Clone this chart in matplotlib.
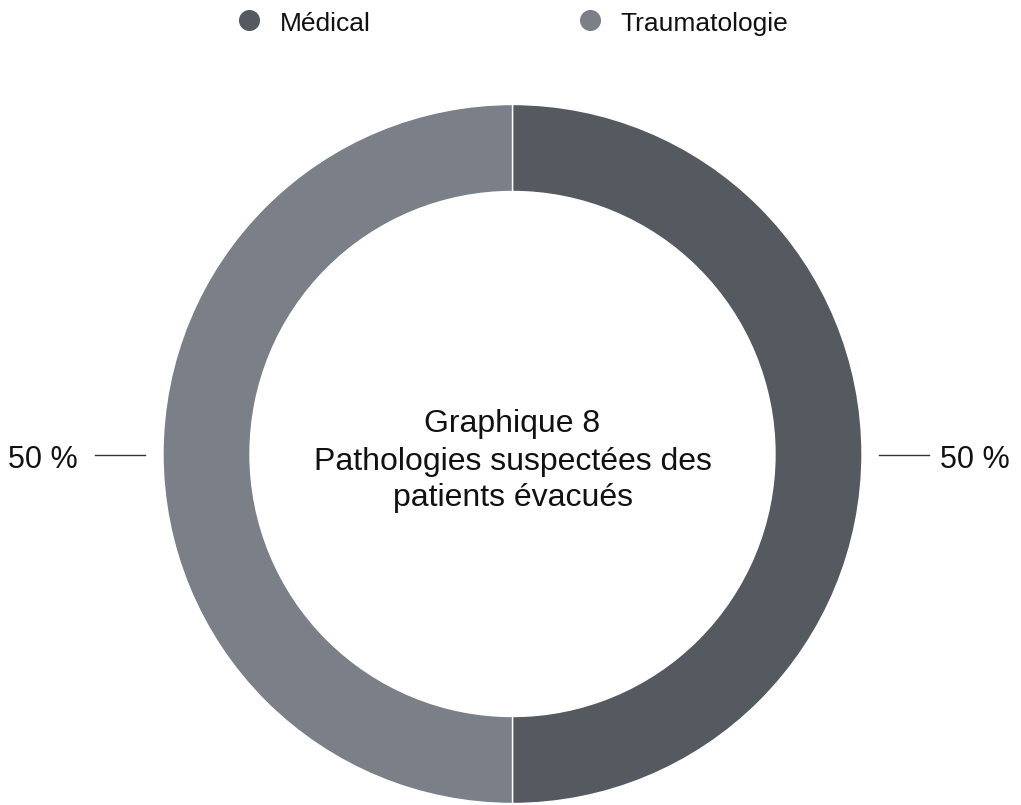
import matplotlib
matplotlib.use("Agg")
import matplotlib.pyplot as plt

categories = ["Médical", "Traumatologie"]
values = [50, 50]
colors = ["#555960", "#7a7f88"]
title_lines = ["Graphique 8", "Pathologies suspectées des", "patients évacués"]

plt.rcParams['font.family'] = ['Liberation Sans', 'DejaVu Sans']

W, H = 1021, 805
fig = plt.figure(figsize=(W / 100, H / 100), dpi=100)
ax = fig.add_axes([0, 0, 1, 1])

cx, cy = 512.5, H - 454
R = 349.5
wedges, _ = ax.pie(values, colors=colors, startangle=90, counterclock=False,
                   radius=R, center=(cx, cy), frame=True,
                   wedgeprops=dict(width=87, edgecolor='white', linewidth=1))
ax.set_xlim(0, W)
ax.set_ylim(0, H)
ax.set_aspect('equal')
ax.axis('off')

# percentage labels
total = sum(values)
ax.plot([879, 929], [H - 455, H - 455], color='#333333', lw=1)
ax.text(1010, H - 468, f"{values[0] * 100 // total} %", ha='right', va='baseline',
        fontsize=22, color='#111111')
ax.plot([95, 145], [H - 455, H - 455], color='#333333', lw=1)
ax.text(8, H - 468, f"{values[1] * 100 // total} %", ha='left', va='baseline',
        fontsize=22, color='#111111')

# center text
for line, base in zip(title_lines, [432, 470, 506]):
    ax.text(cx, H - base, line, ha='center', va='baseline', fontsize=23, color='#111111')

# legend
for x_m, x_t, name, col in [(249, 280, categories[0], colors[0]),
                            (590, 620, categories[1], colors[1])]:
    ax.scatter([x_m], [H - 20], s=230, color=col, marker='o', linewidths=0)
    ax.text(x_t, H - 31, name, ha='left', va='baseline', fontsize=19, color='#111111')

fig.savefig("out.png", dpi=100)
